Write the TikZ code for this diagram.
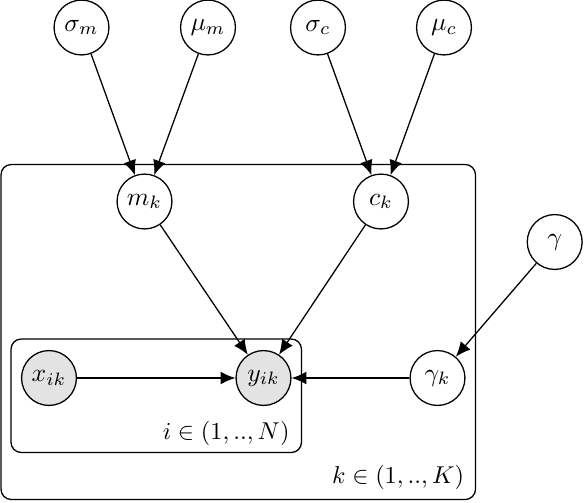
\documentclass[tikz,border=0pt]{standalone}
\usetikzlibrary{arrows.meta}
\begin{document}
\begin{tikzpicture}[x=0.39pt,y=-0.39pt,
  latent/.style={circle,draw,line width=0.5pt,minimum size=21.4pt,inner sep=0pt},
  obs/.style={latent,fill=gray!22},
  edge/.style={-{Latex[length=5.8pt,width=5pt]},line width=0.5pt},
  plate/.style={draw,rounded corners=4pt,line width=0.5pt},
  platelabel/.style={anchor=east,inner sep=0pt,scale=0.95}]
\useasboundingbox (0,0) rectangle (584,502);
\draw[plate] (1,164.5) rectangle (475.5,499.5);
\draw[plate] (11,339) rectangle (301.5,452.5);
\node[latent] (sm) at (81.5,27.5) {$\sigma_m$};
\node[latent] (mm) at (208,27.5) {$\mu_m$};
\node[latent] (sc) at (318,27.5) {$\sigma_c$};
\node[latent] (mc) at (444,27.5) {$\mu_c$};
\node[latent] (mk) at (144.5,201.5) {$m_k$};
\node[latent] (ck) at (381,201.5) {$c_k$};
\node[latent] (g) at (554.7,242) {$\gamma$};
\node[obs] (x) at (49,378) {$x_{ik}$};
\node[obs] (y) at (263.5,378) {$y_{ik}$};
\node[latent] (gk) at (437.5,378) {$\gamma_k$};
\node[platelabel] (lN) at (290,433) {$i\in(1,..,N)$};
\node[platelabel] (lK) at (464.5,477) {$k\in(1,..,K)$};
\draw[edge] (sm) -- (mk);
\draw[edge] (mm) -- (mk);
\draw[edge] (sc) -- (ck);
\draw[edge] (mc) -- (ck);
\draw[edge] (mk) -- (y);
\draw[edge] (ck) -- (y);
\draw[edge] (x) -- (y);
\draw[edge] (gk) -- (y);
\draw[edge] (g) -- (gk);
\end{tikzpicture}
\end{document}
